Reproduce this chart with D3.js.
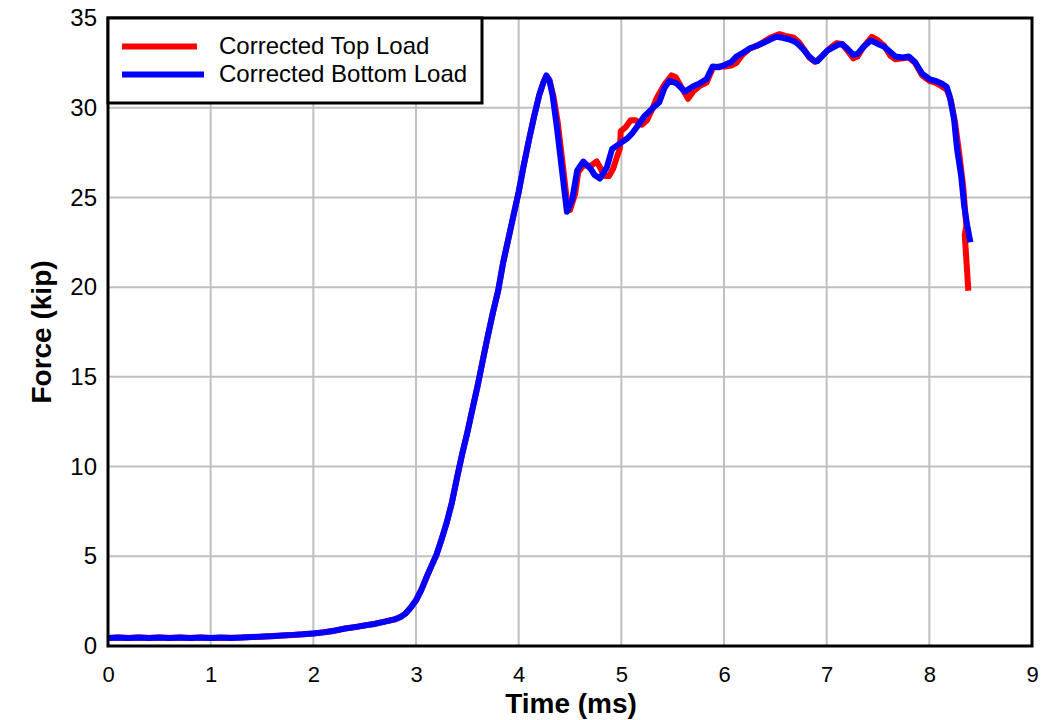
<!DOCTYPE html>
<html>
<head>
<meta charset="utf-8">
<script src="https://cdn.jsdelivr.net/npm/d3@7/dist/d3.min.js"></script>
<style>
  html, body { margin: 0; padding: 0; background: #fff; }
  svg { display: block; }
  text { font-family: "Liberation Sans", Arial, sans-serif; fill: #000; }
</style>
</head>
<body>
<svg id="chart" width="1054" height="720"></svg>
<script>
// Axis ticks
const xTicks = [0, 1, 2, 3, 4, 5, 6, 7, 8, 9];
const yTicks = [0, 5, 10, 15, 20, 25, 30, 35];

// Corrected bottom load: time (ms) and force (kip)
const bottomTime = [
  0.00, 0.10, 0.20, 0.30, 0.40, 0.50, 0.60, 0.70, 0.80, 0.90,
  1.00, 1.10, 1.20, 1.30, 1.40, 1.50, 1.60, 1.70, 1.80, 1.90,
  2.00, 2.10, 2.20, 2.30, 2.40, 2.50, 2.60, 2.70, 2.80, 2.85,
  2.90, 2.95, 3.00, 3.05, 3.10, 3.15, 3.20, 3.25, 3.30, 3.35,
  3.40, 3.45, 3.50, 3.55, 3.60, 3.65, 3.70, 3.75, 3.80, 3.85,
  3.90, 3.95, 4.00, 4.05, 4.10, 4.15, 4.20, 4.24, 4.27, 4.30,
  4.33, 4.37, 4.42, 4.47, 4.52, 4.57, 4.63, 4.70, 4.74, 4.79,
  4.83, 4.86, 4.91, 4.96, 5.01, 5.06, 5.11, 5.16, 5.22, 5.30,
  5.37, 5.42, 5.47, 5.54, 5.62, 5.70, 5.76, 5.83, 5.89, 5.95,
  6.01, 6.07, 6.12, 6.18, 6.25, 6.32, 6.38, 6.45, 6.51, 6.57,
  6.64, 6.70, 6.73, 6.78, 6.83, 6.88, 6.91, 6.96, 7.01, 7.06,
  7.11, 7.15, 7.20, 7.26, 7.30, 7.36, 7.43, 7.50, 7.56, 7.62,
  7.67, 7.74, 7.80, 7.86, 7.93, 8.00, 8.06, 8.12, 8.17, 8.20,
  8.24, 8.27, 8.31, 8.34, 8.37, 8.40
];
const bottomForce = [
  0.45, 0.48, 0.44, 0.47, 0.45, 0.48, 0.44, 0.47, 0.45, 0.47,
  0.44, 0.47, 0.45, 0.48, 0.50, 0.53, 0.55, 0.58, 0.62, 0.65,
  0.70, 0.76, 0.85, 0.96, 1.05, 1.14, 1.24, 1.36, 1.50, 1.62,
  1.82, 2.15, 2.55, 3.10, 3.80, 4.45, 5.10, 5.95, 6.90, 8.00,
  9.40, 10.70, 11.90, 13.20, 14.50, 15.90, 17.30, 18.60, 19.80, 21.40,
  22.70, 24.00, 25.30, 26.80, 28.20, 29.50, 30.70, 31.40, 31.80, 31.50,
  30.70, 29.00, 26.60, 24.20, 24.85, 26.50, 27.00, 26.60, 26.25, 26.05,
  26.40, 26.70, 27.70, 27.90, 28.10, 28.30, 28.60, 29.00, 29.50, 29.95,
  30.30, 31.10, 31.50, 31.35, 30.90, 31.20, 31.35, 31.60, 32.30, 32.25,
  32.40, 32.55, 32.85, 33.05, 33.30, 33.45, 33.60, 33.80, 33.95, 33.90,
  33.80, 33.65, 33.50, 33.20, 32.85, 32.60, 32.60, 32.90, 33.20, 33.35,
  33.50, 33.55, 33.30, 32.95, 33.00, 33.40, 33.75, 33.55, 33.40, 33.10,
  32.85, 32.80, 32.85, 32.55, 31.90, 31.60, 31.50, 31.35, 31.15, 30.60,
  29.40, 27.70, 26.20, 24.50, 23.40, 22.50
];

// Corrected top load: time (ms) and force (kip)
const topTime = [
  0.00, 0.10, 0.20, 0.30, 0.40, 0.50, 0.60, 0.70, 0.80, 0.90,
  1.00, 1.10, 1.20, 1.30, 1.40, 1.50, 1.60, 1.70, 1.80, 1.90,
  2.00, 2.10, 2.20, 2.30, 2.40, 2.50, 2.60, 2.70, 2.80, 2.85,
  2.90, 2.95, 3.00, 3.05, 3.10, 3.15, 3.20, 3.25, 3.30, 3.35,
  3.40, 3.45, 3.50, 3.55, 3.60, 3.65, 3.70, 3.75, 3.80, 3.85,
  3.90, 3.95, 4.00, 4.05, 4.10, 4.15, 4.20, 4.24, 4.27, 4.30,
  4.34, 4.38, 4.43, 4.47, 4.50, 4.55, 4.58, 4.63, 4.70, 4.76,
  4.80, 4.83, 4.88, 4.92, 4.96, 4.985, 4.995, 5.04, 5.09, 5.14,
  5.20, 5.25, 5.30, 5.35, 5.42, 5.49, 5.53, 5.58, 5.65, 5.70,
  5.76, 5.83, 5.89, 5.95, 6.01, 6.07, 6.12, 6.18, 6.25, 6.32,
  6.38, 6.45, 6.54, 6.60, 6.68, 6.73, 6.78, 6.83, 6.89, 6.96,
  7.01, 7.06, 7.10, 7.15, 7.20, 7.26, 7.30, 7.36, 7.44, 7.50,
  7.56, 7.62, 7.67, 7.74, 7.80, 7.86, 7.93, 8.00, 8.06, 8.12,
  8.17, 8.21, 8.25, 8.29, 8.33, 8.36, 8.345, 8.36, 8.38
];
const topForce = [
  0.45, 0.47, 0.45, 0.48, 0.44, 0.47, 0.45, 0.48, 0.44, 0.47,
  0.45, 0.46, 0.46, 0.47, 0.50, 0.52, 0.56, 0.58, 0.61, 0.66,
  0.70, 0.77, 0.84, 0.97, 1.04, 1.15, 1.23, 1.37, 1.49, 1.63,
  1.81, 2.16, 2.54, 3.11, 3.79, 4.46, 5.09, 5.96, 6.89, 8.01,
  9.39, 10.71, 11.89, 13.21, 14.49, 15.91, 17.29, 18.61, 19.79, 21.41,
  22.69, 24.01, 25.29, 26.81, 28.19, 29.51, 30.69, 31.40, 31.75, 31.55,
  30.60, 29.20, 26.80, 24.80, 24.30, 25.20, 26.40, 26.80, 26.75, 27.00,
  26.60, 26.20, 26.20, 26.60, 27.30, 27.70, 28.70, 28.90, 29.30, 29.30,
  29.05, 29.30, 29.90, 30.60, 31.30, 31.80, 31.70, 31.20, 30.50, 30.90,
  31.20, 31.40, 32.20, 32.30, 32.30, 32.35, 32.50, 32.95, 33.30, 33.45,
  33.65, 33.90, 34.10, 34.00, 33.90, 33.65, 33.25, 32.80, 32.55, 32.90,
  33.20, 33.45, 33.60, 33.55, 33.20, 32.75, 32.85, 33.40, 33.95, 33.75,
  33.45, 32.90, 32.70, 32.75, 32.80, 32.50, 31.80, 31.50, 31.40, 31.20,
  31.00, 30.40, 29.20, 27.50, 25.60, 23.40, 22.90, 21.60, 19.80
];

const seriesNames = ["Corrected Top Load", "Corrected Bottom Load"];
const seriesColors = ["#ff0000", "#0000ff"];

const svg = d3.select("#chart");
const plot = { left: 108, right: 1032, top: 18, bottom: 646 };

const x = d3.scaleLinear().domain([0, 9]).range([plot.left, plot.right]);
const y = d3.scaleLinear().domain([0, 35]).range([plot.bottom, plot.top]);

// Gridlines
const grid = svg.append("g").attr("stroke", "#c0c0c0").attr("stroke-width", 2);
grid.selectAll(".gx").data(xTicks.slice(1, -1)).join("line")
  .attr("x1", d => x(d)).attr("x2", d => x(d))
  .attr("y1", plot.top).attr("y2", plot.bottom);
grid.selectAll(".gy").data(yTicks.slice(1, -1)).join("line")
  .attr("x1", plot.left).attr("x2", plot.right)
  .attr("y1", d => y(d)).attr("y2", d => y(d));

// Curves
svg.append("clipPath").attr("id", "plot-clip").append("rect")
  .attr("x", plot.left).attr("y", plot.top)
  .attr("width", plot.right - plot.left).attr("height", plot.bottom - plot.top);

const line = d3.line().x(d => x(d[0])).y(d => y(d[1]));
const topPts = d3.zip(topTime, topForce);
const bottomPts = d3.zip(bottomTime, bottomForce);

const curves = svg.append("g").attr("clip-path", "url(#plot-clip)");
[topPts, bottomPts].forEach((pts, i) => {
  curves.append("path")
    .attr("d", line(pts))
    .attr("fill", "none")
    .attr("stroke", seriesColors[i])
    .attr("stroke-width", 6)
    .attr("stroke-linejoin", "round")
    .attr("stroke-linecap", "butt");
});

// Axes (labels only; the frame is drawn separately)
const xAxis = svg.append("g")
  .attr("transform", `translate(0,${plot.bottom})`)
  .call(d3.axisBottom(x).tickValues(xTicks).tickSize(0).tickPadding(20).tickFormat(d3.format("d")));
xAxis.select(".domain").remove();
xAxis.selectAll("text").attr("font-size", 22).attr("font-family", "'Liberation Sans', Arial, sans-serif").attr("fill", "#000");

const yAxis = svg.append("g")
  .attr("transform", `translate(${plot.left},0)`)
  .call(d3.axisLeft(y).tickValues(yTicks).tickSize(0).tickPadding(11).tickFormat(d3.format("d")));
yAxis.select(".domain").remove();
yAxis.selectAll("text").attr("font-size", 24).attr("font-family", "'Liberation Sans', Arial, sans-serif").attr("fill", "#000");

// Frame
svg.append("rect")
  .attr("x", plot.left).attr("y", plot.top)
  .attr("width", plot.right - plot.left).attr("height", plot.bottom - plot.top)
  .attr("fill", "none").attr("stroke", "#000").attr("stroke-width", 3);

// Axis titles
svg.append("text")
  .attr("x", (plot.left + plot.right) / 2 + 1).attr("y", 713)
  .attr("text-anchor", "middle").attr("font-size", 28).attr("font-weight", "bold")
  .text("Time (ms)");
svg.append("text")
  .attr("transform", `translate(51,${(plot.top + plot.bottom) / 2}) rotate(-90)`)
  .attr("text-anchor", "middle").attr("font-size", 28).attr("font-weight", "bold")
  .text("Force (kip)");

// Legend
const legend = svg.append("g");
legend.append("rect")
  .attr("x", plot.left).attr("y", plot.top)
  .attr("width", 374).attr("height", 85)
  .attr("fill", "#fff").attr("stroke", "#000").attr("stroke-width", 3);
const legendRows = [
  { y: 46.5, x2: 197, ty: 54 },
  { y: 74.5, x2: 204, ty: 82 }
];
legendRows.forEach((r, i) => {
  legend.append("line")
    .attr("x1", 122).attr("x2", r.x2).attr("y1", r.y).attr("y2", r.y)
    .attr("stroke", seriesColors[i]).attr("stroke-width", 6);
  legend.append("text")
    .attr("x", 219).attr("y", r.ty)
    .attr("font-size", 24)
    .text(seriesNames[i]);
});
</script>
</body>
</html>
